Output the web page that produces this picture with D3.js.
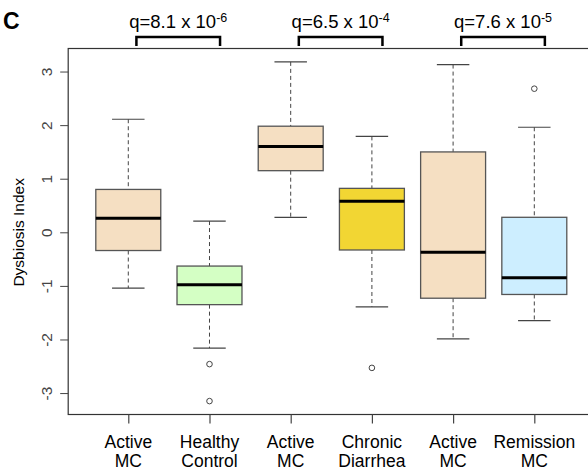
<!DOCTYPE html>
<html>
<head>
<meta charset="utf-8">
<script src="https://cdn.jsdelivr.net/npm/d3@7"></script>
<style>
  body { margin: 0; background: #fff; }
  text { font-family: "Liberation Sans", Arial, sans-serif; }
</style>
</head>
<body>
<div id="chart"></div>
<script>
// group labels (two lines each)
var labelTop = ["Active", "Healthy", "Active", "Chronic", "Active", "Remission"];
var labelBottom = ["MC", "Control", "MC", "Diarrhea", "MC", "MC"];
var fills = ["#f5dfc2", "#d4ffc4", "#f5dfc2", "#f2d633", "#f5dfc2", "#cdeeff"];

// box stats
var whiskLo = [-1.04, -2.16, 0.28, -1.39, -1.99, -1.65];
var q1      = [-0.34, -1.35, 1.15, -0.33, -1.23, -1.16];
var medians = [ 0.26, -0.98, 1.60,  0.58, -0.37, -0.85];
var q3      = [ 0.80, -0.63, 1.98,  0.82,  1.50,  0.28];
var whiskHi = [ 2.11,  0.21, 3.18,  1.79,  3.13,  1.96];
// outliers: [group, value]
var outliers = [[2, -2.46], [2, -3.15], [4, -2.53], [6, 2.68]];

var yTicks = [-3, -2, -1, 0, 1, 2, 3];

// comparison brackets: [from group, to group], q text
var pairs = [[1, 2], [3, 4], [5, 6]];
var qBase = ["q=8.1 x 10", "q=6.5 x 10", "q=7.6 x 10"];
var qExp = ["-6", "-4", "-5"];

var width = 588, height = 471;

var x = d3.scaleLinear().domain([0.26, 6.74]).range([68.2, 594.4]);
var y = d3.scaleLinear().domain([-3.4, 3.43]).range([414.5, 48.5]);

var svg = d3.select("#chart").append("svg")
  .attr("width", width)
  .attr("height", height);

// panel letter
svg.append("text")
  .attr("x", 3)
  .attr("y", 29)
  .attr("font-size", 23)
  .attr("font-weight", "bold")
  .text("C");

// plot frame
svg.append("rect")
  .attr("x", x(0.26))
  .attr("y", y(3.43))
  .attr("width", x(6.74) - x(0.26))
  .attr("height", y(-3.4) - y(3.43))
  .attr("fill", "none")
  .attr("stroke", "#333")
  .attr("stroke-width", 1.2);

// y axis
var yAxis = svg.append("g")
  .attr("transform", "translate(" + x(0.26) + ",0)")
  .call(d3.axisLeft(y).tickValues(yTicks).tickSize(8).tickPadding(0).tickFormat(d3.format("d")));
yAxis.select(".domain").remove();
yAxis.selectAll("line").attr("stroke", "#444");
yAxis.selectAll("text")
  .attr("x", null)
  .attr("text-anchor", "middle")
  .attr("transform", "translate(-22,0) rotate(-90)")
  .attr("dy", "0.35em")
  .attr("font-size", 15.5)
  .attr("fill", "#444")
  .text(function(d) { return d < 0 ? "-" + Math.abs(d) : d; });

svg.append("text")
  .attr("transform", "translate(24," + y(0) + ") rotate(-90)")
  .attr("text-anchor", "middle")
  .attr("font-size", 15.5)
  .text("Dysbiosis Index");

// x axis
var groups = d3.range(1, 7);
var xAxis = svg.append("g")
  .attr("transform", "translate(0," + y(-3.4) + ")")
  .call(d3.axisBottom(x).tickValues(groups).tickSize(9).tickFormat(""));
xAxis.select(".domain").remove();
xAxis.selectAll("line").attr("stroke", "#444").attr("stroke-width", 1.2);

var xl = svg.append("g").selectAll("text")
  .data(groups)
  .enter().append("text")
  .attr("x", function(d) { return x(d); })
  .attr("text-anchor", "middle")
  .attr("font-size", 17.5);
xl.append("tspan").attr("x", function(d) { return x(d); }).attr("y", 448)
  .text(function(d) { return labelTop[d - 1]; });
xl.append("tspan").attr("x", function(d) { return x(d); }).attr("y", 467)
  .text(function(d) { return labelBottom[d - 1]; });

// boxes
var boxW = 0.8, capW = 0.4;
var g = svg.selectAll(".box")
  .data(groups)
  .enter().append("g")
  .attr("class", "box");

g.append("line")
  .attr("x1", function(d) { return x(d); })
  .attr("x2", function(d) { return x(d); })
  .attr("y1", function(d) { return y(whiskHi[d - 1]); })
  .attr("y2", function(d) { return y(q3[d - 1]); })
  .attr("stroke", "#444").attr("stroke-dasharray", "4,3");
g.append("line")
  .attr("x1", function(d) { return x(d); })
  .attr("x2", function(d) { return x(d); })
  .attr("y1", function(d) { return y(q1[d - 1]); })
  .attr("y2", function(d) { return y(whiskLo[d - 1]); })
  .attr("stroke", "#444").attr("stroke-dasharray", "4,3");
g.append("line")
  .attr("x1", function(d) { return x(d - capW / 2); })
  .attr("x2", function(d) { return x(d + capW / 2); })
  .attr("y1", function(d) { return y(whiskHi[d - 1]); })
  .attr("y2", function(d) { return y(whiskHi[d - 1]); })
  .attr("stroke", "#444").attr("stroke-width", 1.2);
g.append("line")
  .attr("x1", function(d) { return x(d - capW / 2); })
  .attr("x2", function(d) { return x(d + capW / 2); })
  .attr("y1", function(d) { return y(whiskLo[d - 1]); })
  .attr("y2", function(d) { return y(whiskLo[d - 1]); })
  .attr("stroke", "#444").attr("stroke-width", 1.2);
g.append("rect")
  .attr("x", function(d) { return x(d - boxW / 2); })
  .attr("width", function(d) { return x(d + boxW / 2) - x(d - boxW / 2); })
  .attr("y", function(d) { return y(q3[d - 1]); })
  .attr("height", function(d) { return y(q1[d - 1]) - y(q3[d - 1]); })
  .attr("fill", function(d) { return fills[d - 1]; })
  .attr("stroke", "#555").attr("stroke-width", 1.3);
g.append("line")
  .attr("x1", function(d) { return x(d - boxW / 2); })
  .attr("x2", function(d) { return x(d + boxW / 2); })
  .attr("y1", function(d) { return y(medians[d - 1]); })
  .attr("y2", function(d) { return y(medians[d - 1]); })
  .attr("stroke", "#000").attr("stroke-width", 3);

svg.selectAll(".out")
  .data(outliers)
  .enter().append("circle")
  .attr("cx", function(d) { return x(d[0]); })
  .attr("cy", function(d) { return y(d[1]); })
  .attr("r", 2.8)
  .attr("fill", "#fff")
  .attr("stroke", "#444");

// significance brackets
var br = svg.selectAll(".br")
  .data(pairs)
  .enter().append("g");
br.append("path")
  .attr("d", function(d) {
    var a = x(d[0] + 0.1), b = x(d[1] + 0.13);
    return "M" + a + ",46V37H" + b + "V46";
  })
  .attr("fill", "none")
  .attr("stroke", "#000")
  .attr("stroke-width", 2.5);
var qt = br.append("text")
  .attr("x", function(d) { return (x(d[0] + 0.1) + x(d[1] + 0.13)) / 2; })
  .attr("y", 28)
  .attr("text-anchor", "middle")
  .attr("font-size", 18.5);
qt.append("tspan").text(function(d, i) { return qBase[i]; });
qt.append("tspan")
  .attr("dy", -6)
  .attr("font-size", 12.5)
  .text(function(d, i) { return qExp[i]; });
</script>
</body>
</html>
